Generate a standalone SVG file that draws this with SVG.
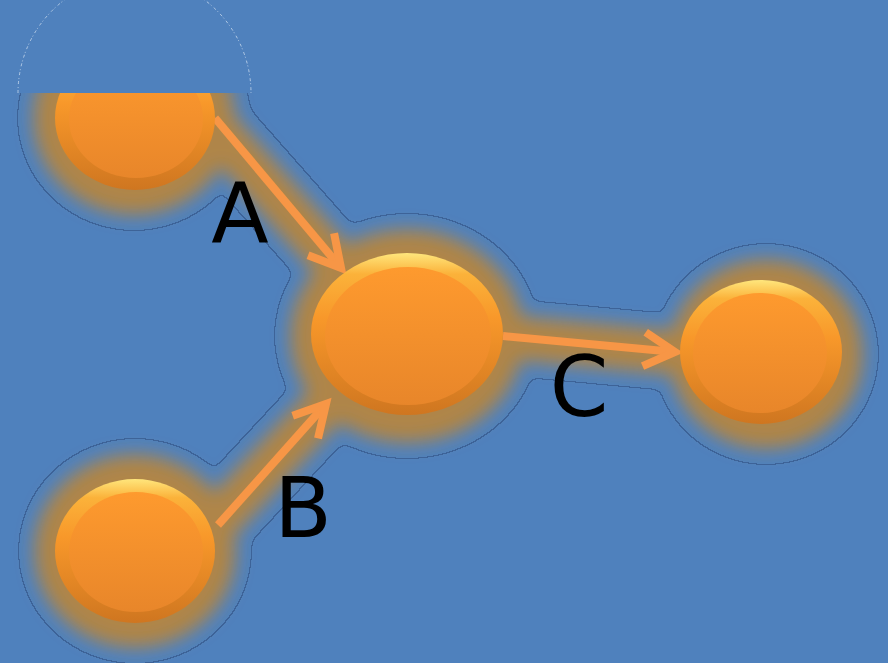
<svg xmlns="http://www.w3.org/2000/svg" width="888" height="663" viewBox="0 0 888 663">
<defs>
  <style>
    .lbl{font-family:"DejaVu Sans","Liberation Sans",sans-serif;font-size:84px;fill:#000;text-anchor:middle}
    .edge{fill:none;stroke:#f79646;stroke-width:8}
    .gsrc{fill:#e08a28;stroke:#e08a28}
    .rim{fill:url(#rimGrad)}
    .face{fill:url(#faceGrad)}
  </style>
  <linearGradient id="rimGrad" x1="0" y1="0" x2="0" y2="1">
    <stop offset="0" stop-color="#ffe67c"/>
    <stop offset="0.13" stop-color="#fbb23a"/>
    <stop offset="0.4" stop-color="#f8982a"/>
    <stop offset="1" stop-color="#cf7620"/>
  </linearGradient>
  <linearGradient id="faceGrad" x1="0" y1="0" x2="0" y2="1">
    <stop offset="0" stop-color="#fe9a2e"/>
    <stop offset="1" stop-color="#e8862a"/>
  </linearGradient>
  <filter id="glow" x="-60%" y="-60%" width="220%" height="220%">
    <feGaussianBlur in="SourceAlpha" stdDeviation="9" result="b"/>
    <feFlood flood-color="#c4862e" flood-opacity="0.82" result="c"/>
    <feComposite in="c" in2="b" operator="in" result="g"/>
    <feComponentTransfer in="b" result="t">
      <feFuncA type="discrete" tableValues="0 1 1 1 1 1 1 1 1 1 1 1 1 1 1 1 1 1 1 1 1 1 1 1 1 1 1 1 1 1 1 1 1 1 1 1 1 1 1 1 1 1 1 1 1 1 1 1 1 1"/>
    </feComponentTransfer>
    <feMorphology in="t" operator="erode" radius="1" result="te"/>
    <feComposite in="t" in2="te" operator="out" result="edge"/>
    <feFlood flood-color="#2a4c7c" flood-opacity="0.55"/>
    <feComposite in2="edge" operator="in" result="edgec"/>
    <feMerge><feMergeNode in="g"/><feMergeNode in="edgec"/></feMerge>
  </filter>
  <marker id="chev" markerUnits="userSpaceOnUse" markerWidth="60" markerHeight="60" refX="0" refY="0" viewBox="-40 -30 60 60" orient="auto" overflow="visible">
    <path d="M -31 -17 L 0 0 L -31 17" fill="none" stroke="#f79646" stroke-width="8" stroke-linejoin="miter"/>
  </marker>
</defs>
<rect width="888" height="663" fill="#4f81bd"/>

<g id="glowLayer" filter="url(#glow)">
  <ellipse class="gsrc" cx="134" cy="118" rx="100" ry="96"/>
  <ellipse class="gsrc" cx="407" cy="336" rx="116" ry="106"/>
  <ellipse class="gsrc" cx="766" cy="354" rx="96" ry="94"/>
  <ellipse class="gsrc" cx="135" cy="551" rx="100" ry="96"/>
  <line class="gsrc" x1="200" y1="110" x2="350" y2="280" stroke-width="44"/>
  <line class="gsrc" x1="205" y1="535" x2="335" y2="395" stroke-width="44"/>
  <line class="gsrc" x1="495" y1="336" x2="690" y2="354" stroke-width="44"/>
</g>

<g id="connectors">
  <line class="edge" x1="215" y1="118" x2="341" y2="268" marker-end="url(#chev)"/>
  <line class="edge" x1="218" y1="525" x2="326" y2="404" marker-end="url(#chev)"/>
  <line class="edge" x1="503" y1="336" x2="675" y2="352" marker-end="url(#chev)"/>
</g>

<g id="node1">
  <ellipse class="rim" cx="135" cy="118" rx="80" ry="72"/>
  <ellipse class="face" cx="136" cy="119" rx="67" ry="59"/>
</g>
<g id="node2">
  <ellipse class="rim" cx="407" cy="334" rx="96" ry="81"/>
  <ellipse class="face" cx="408" cy="336" rx="83" ry="69"/>
</g>
<g id="node3">
  <ellipse class="rim" cx="761" cy="352" rx="81" ry="72"/>
  <ellipse class="face" cx="760" cy="353" rx="67" ry="60"/>
</g>
<g id="node4">
  <ellipse class="rim" cx="135" cy="551" rx="80" ry="72"/>
  <ellipse class="face" cx="136" cy="552" rx="67" ry="60"/>
</g>

<g id="clipCover">
  <rect x="0" y="0" width="252" height="93" fill="#4f81bd"/>
  <path d="M 18 93 A 116 116 0 0 1 251 93" fill="none" stroke="#d8e6f4" stroke-opacity="0.7" stroke-width="1" stroke-dasharray="3 2 1 3"/>
</g>

<g id="labels">
  <text class="lbl" x="240" y="243">A</text>
  <text class="lbl" x="303" y="537">B</text>
  <text class="lbl" x="579" y="416">C</text>
</g>
</svg>
